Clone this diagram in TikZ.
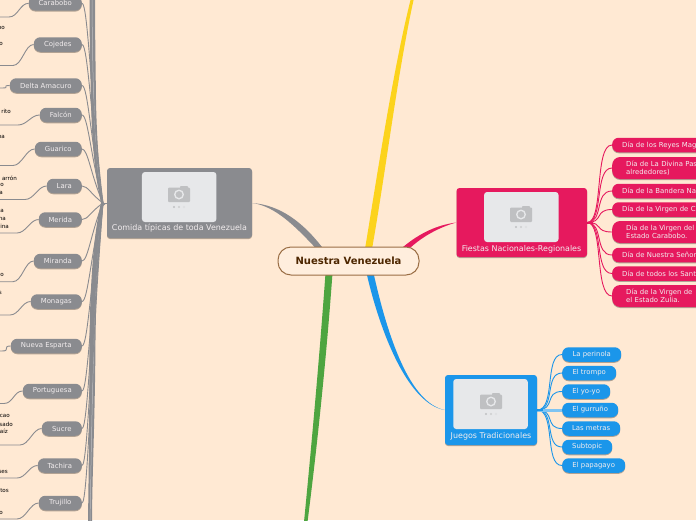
\documentclass[tikz,border=0pt]{standalone}
\usepackage{fontspec}
\setmainfont{DejaVu Sans}
\usetikzlibrary{shadows}
\definecolor{bgc}{HTML}{FFE9D3}
\definecolor{rootfill}{HTML}{FFEEDD}
\definecolor{rootline}{HTML}{9A6E45}
\definecolor{roottext}{HTML}{4D2600}
\definecolor{grayc}{HTML}{8A8B8F}
\definecolor{pinkc}{HTML}{E6195E}
\definecolor{bluec}{HTML}{1B96EA}
\definecolor{lightblue}{HTML}{7FC4F2}
\definecolor{greenc}{HTML}{4EA540}
\definecolor{yellowc}{HTML}{FCD31C}
\definecolor{imgc}{HTML}{E7E8EA}
\definecolor{camc}{HTML}{BFC0C2}
\definecolor{lighttext}{HTML}{F2EDEE}
\pgfdeclarelayer{bg}
\pgfsetlayers{bg,main}
\tikzset{
  softshadow/.style={drop shadow={shadow xshift=0pt,shadow yshift=-1pt,opacity=.3,fill=black}},
  pill/.style={fill=#1,rounded corners=6.5pt,inner sep=0pt,minimum height=14.5pt,text=lighttext,font=\fontsize{6.9}{8}\selectfont,softshadow},
  rightpill/.style={pill=#1,anchor=west,align=left,text width=104pt,inner xsep=10pt,font=\fontsize{6.9}{7.8}\selectfont},
  rightpilltwo/.style={pill=#1,anchor=west,align=left,text width=104pt,inner xsep=14pt,minimum height=22pt,rounded corners=8pt,font=\fontsize{6.9}{7.8}\selectfont},
  topicbox/.style={fill=#1,rounded corners=3pt,inner sep=0pt,softshadow},
  imgbox/.style={fill=imgc,rounded corners=3pt,inner sep=0pt,minimum width=74.5pt,minimum height=50pt},
  topiclabel/.style={text=lighttext,inner sep=0pt,font=\fontsize{7.95}{9}\selectfont},
  cutlabel/.style={anchor=east,inner sep=0pt,text=black,font=\fontsize{5.6}{7}\selectfont},
  graylink/.style={draw=grayc,line width=.9pt},
  pinklink/.style={draw=pinkc,line width=.9pt},
  bluelink/.style={draw=bluec,line width=.9pt},
  pics/camera/.style={code={
    \fill[camc,rounded corners=1pt] (-11,-6.5) rectangle (11,8);
    \fill[camc,rounded corners=.8pt] (1,-8) rectangle (9,-5);
    \fill[imgc] (0,.5) circle (5);
    \fill[camc] (0,.5) circle (3.4);
    \fill[camc] (-5,13) circle (1.2);
    \fill[camc!80!white] (0,13) circle (1.2);
    \fill[camc!25!imgc] (5,13) circle (1.2);
  }}
}
% name, text, left x, centre y, bend x, end y
\newcommand{\graynode}[6]{%
  \node[pill=grayc,anchor=east,minimum width={(82-#3)*1pt}] (#1) at (82,#4) {#2};
  \coordinate (#1bend) at (#5,#6);
  \coordinate (#1end) at (-2,#6);
  \begin{pgfonlayer}{bg}
  \draw[graylink] (#1.west) .. controls ({#3-9},#4) and ({#5+9},#6) .. (#1bend) -- (#1end);
  \draw[graylink] (#1.east) .. controls (88,#4) and (91,{203+(#4-203)*.5}) .. (hub);
  \end{pgfonlayer}
}
\newcommand{\pinkone}[3]{%
  \node[rightpill=pinkc] (#1) at (612,#2) {#3};
  \begin{pgfonlayer}{bg}
  \draw[pinklink] (fiestas.east) .. controls (604,222.5) and (594,#2) .. (#1.west);
  \end{pgfonlayer}
}
\newcommand{\pinktwo}[3]{%
  \node[rightpilltwo=pinkc] (#1) at (612,#2) {#3};
  \begin{pgfonlayer}{bg}
  \draw[pinklink] (fiestas.east) .. controls (604,222.5) and (594,#2) .. (#1.west);
  \end{pgfonlayer}
}
\newcommand{\blueone}[4]{%
  \node[pill=bluec,anchor=west,minimum width={(#2-562)*1pt}] (#1) at (562,#3) {#4};
  \begin{pgfonlayer}{bg}
  \draw[bluelink] (juegos.east) .. controls (556,410) and (544,#3) .. (#1.west);
  \end{pgfonlayer}
}
\begin{document}
\begin{tikzpicture}[x=1pt,y=-1pt]
\useasboundingbox (0,0) rectangle (696,520);
\begin{pgfonlayer}{bg}
\fill[bgc] (0,0) rectangle (696,520);
\end{pgfonlayer}

% centre
\node[draw=rootline,line width=1pt,fill=rootfill,rounded corners=13pt,minimum width=141pt,minimum height=28pt,inner sep=0pt,text=roottext,font=\fontsize{10}{12}\selectfont\bfseries] (root) at (348.5,261) {Nuestra Venezuela};

% topics
\node[topicbox=grayc,minimum width=145pt,minimum height=70pt] (comida) at (179.5,203) {};
\node[imgbox] (comidaimg) at (179.2,197) {};
\pic at (179,194) {camera};
\node[topiclabel] (comidatext) at (179.5,228) {Comida típicas de toda Venezuela};

\node[topicbox=pinkc,minimum width=130.5pt,minimum height=69pt] (fiestas) at (521.75,222.5) {};
\node[imgbox] (fiestasimg) at (521.3,217) {};
\pic at (521,214) {camera};
\node[topiclabel] (fiestastext) at (521.5,249) {Fiestas Nacionales-Regionales};

\node[topicbox=bluec,minimum width=92pt,minimum height=70pt] (juegos) at (491,410) {};
\node[imgbox] (juegosimg) at (490.5,404) {};
\pic at (491,401) {camera};
\node[topiclabel] (juegostext) at (491,436) {Juegos Tradicionales};

% free ends of main branches
\coordinate (yellowtop) at (411,-2);
\coordinate (greenbottom) at (304,522);
\coordinate (hub) at (103,203);
\coordinate (bundletop) at (92,-4);
\coordinate (bundlebottom) at (90,524);

\begin{pgfonlayer}{bg}
% tapered main branches
\fill[grayc] (316.5,249) .. controls (295,226) and (275,206) .. (comida.east) .. controls (280,205) and (303,222) .. (323.5,249) -- cycle;
\fill[yellowc] (365,249) .. controls (378,170) and (393,70) .. (yellowtop) -- ++(3,0) .. controls (398,70) and (386,170) .. (372,249) -- cycle;
\fill[pinkc] (403,247) .. controls (420,233) and (437,225) .. (fiestas.west) .. controls (440,227) and (423,236) .. (410,248) -- cycle;
\fill[bluec] (366.5,273) .. controls (380,332) and (408,404) .. (juegos.west) .. controls (410,403) and (388,338) .. (373.5,273) -- cycle;
\fill[greenc] (325.5,273) .. controls (320,350) and (312,440) .. (greenbottom) -- ++(3.5,0) .. controls (318,440) and (327,350) .. (332.5,273) -- cycle;
% grey bundle to the hub
\fill[grayc] (hub) -- (comida.west) -- (103,206) .. controls (98,240) and (96,300) .. (95.5,340) .. controls (95,420) and (92,480) .. (92,524) -- (bundlebottom) -- (88,524) .. controls (88.5,480) and (89.5,420) .. (89.5,340) .. controls (90,300) and (92,240) .. (101,203) .. controls (96,180) and (92,150) .. (91,100) .. controls (90,60) and (89.5,30) .. (89.5,-4) -- (bundletop) -- (95,-4) .. controls (95,30) and (95.5,60) .. (96,100) .. controls (96.5,130) and (99,175) .. (hub) -- cycle;
\draw[white!45!grayc,line width=.5pt] (hub) .. controls (95,170) and (92.5,90) .. (bundletop);
\draw[white!45!grayc,line width=.5pt] (hub) .. controls (95,240) and (92,400) .. (bundlebottom);
\draw[graylink] (hub) -- (comida.west);
\end{pgfonlayer}

% grey subtopics
\graynode{carabobo}{Carabobo}{29}{3.3}{9}{17}
\graynode{cojedes}{Cojedes}{34}{44.5}{13}{65.5}
\graynode{delta}{Delta Amacuro}{10}{85.5}{2}{88}
\graynode{falcon}{Falcón}{40}{115}{18}{125}
\graynode{guarico}{Guarico}{35}{149}{13}{165.5}
\graynode{lara}{Lara}{47}{186}{25}{199.5}
\graynode{merida}{Merida}{39}{219.5}{17}{233}
\graynode{miranda}{Miranda}{34}{261}{13}{281.7}
\graynode{monagas}{Monagas}{31}{301.5}{10}{315}
\graynode{nueva}{Nueva Esparta}{11}{346}{2}{351}
\graynode{portuguesa}{Portuguesa}{23}{391}{4}{403.5}
\graynode{sucre}{Sucre}{42}{428.5}{20}{445}
\graynode{tachira}{Tachira}{38}{465.5}{17}{478}
\graynode{trujillo}{Trujillo}{39}{503}{17}{519}

% text cut by the left edge
\node[cutlabel] (t1) at (5,29) {po};
\node[cutlabel] (t2) at (3,44) {o};
\node[cutlabel] (t3) at (11,111) {rito};
\node[cutlabel] (t4) at (5,137) {na};
\node[cutlabel] (t5) at (17,178) {arrón};
\node[cutlabel] (t6) at (4,185) {o};
\node[cutlabel] (t7) at (3,193) {a};
\node[cutlabel] (t8) at (4,211) {a};
\node[cutlabel] (t9) at (6,219) {na};
\node[cutlabel] (t10) at (9,226) {ina};
\node[cutlabel] (t11) at (4,275) {co};
\node[cutlabel] (t12) at (2,293) {s};
\node[cutlabel] (t13) at (10,416) {cao};
\node[cutlabel] (t14) at (13,424) {sado};
\node[cutlabel] (t15) at (8,431) {aíz};
\node[cutlabel] (t16) at (8,472) {ses};
\node[cutlabel] (t17) at (9,491) {tos};
\node[cutlabel] (t18) at (3,513) {o};

% pink subtopics
\pinkone{p1}{145}{Día de los Reyes Mag}
\pinktwo{p2}{168}{Día de La Divina Pas\\alrededores)}
\pinkone{p3}{191}{Día de la Bandera Na}
\pinkone{p4}{209.5}{Día de la Virgen de C}
\pinktwo{p5}{232}{Día de la Virgen del\\Estado Carabobo.}
\pinkone{p6}{255}{Día de Nuestra Señor}
\pinkone{p7}{273.5}{Día de todos los Sant}
\pinktwo{p8}{296}{Día de la Virgen de\\el Estado Zulia.}

% blue subtopics
\blueone{b1}{621}{354.5}{La perinola}
\blueone{b2}{616}{373}{El trompo}
\blueone{b3}{610}{391.5}{El yo-yo}
\blueone{b4}{618}{410}{El gurruño}
\blueone{b5}{620}{428.5}{Las metras}
\blueone{b6}{612}{447}{Subtopic}
\blueone{b7}{625}{465.5}{El papagayo}
\begin{pgfonlayer}{bg}
\draw[lightblue,line width=3pt] (juegos.east) -- (b4.west);
\draw[bluec,line width=2pt] (juegos.east) -- ++(6,0);
\draw[pinkc,line width=2pt] (fiestas.east) -- ++(6,0);
\end{pgfonlayer}
\end{tikzpicture}
\end{document}
